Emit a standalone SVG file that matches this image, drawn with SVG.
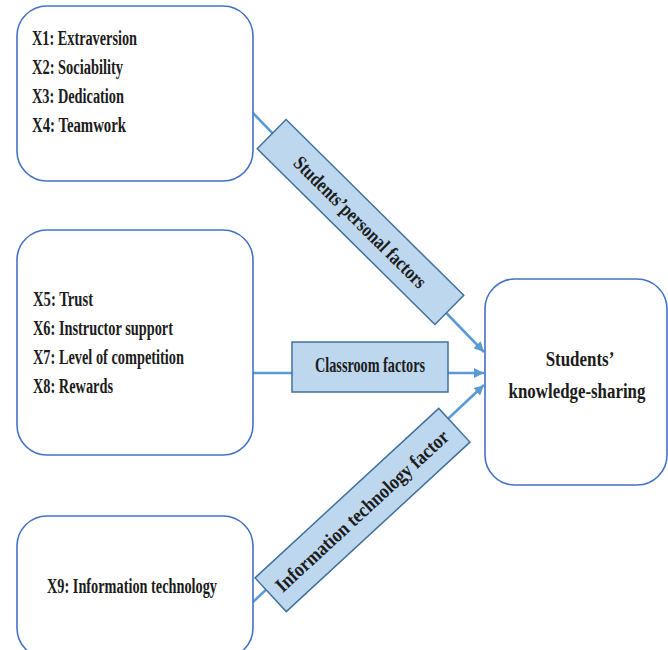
<svg xmlns="http://www.w3.org/2000/svg" width="668" height="650" viewBox="0 0 668 650">
<defs>
<style>
.box{fill:#ffffff;stroke:#4472c4;stroke-width:1.6}
.lab{fill:#bdd7ee;stroke:#41719c;stroke-width:1.5}
.conn{stroke:#5b9bd5;stroke-width:2.6;fill:none}
text{font-family:"Liberation Serif","Times New Roman",serif;font-weight:bold;fill:#1c1c1c}
.t{font-size:20px}
.c{font-size:21px}
.r{font-size:20px}
.big{font-size:22px}
</style>
<marker id="arr" markerUnits="userSpaceOnUse" markerWidth="11" markerHeight="10" refX="10" refY="5" orient="auto">
<path d="M0,0 L10,5 L0,10 z" fill="#5b9bd5"/>
</marker>
</defs>
<rect width="668" height="650" fill="#ffffff"/>
<g id="connectors">
<line class="conn" x1="253" y1="113" x2="484" y2="352" marker-end="url(#arr)"/>
<line class="conn" x1="253" y1="373" x2="484" y2="373" marker-end="url(#arr)"/>
<line class="conn" x1="253" y1="602" x2="484" y2="385" marker-end="url(#arr)"/>
</g>
<g id="personal-box">
<rect class="box" x="17" y="6" width="236" height="175" rx="30"/>
<text class="t" x="32" y="45" textLength="105" lengthAdjust="spacingAndGlyphs">X1: Extraversion</text>
<text class="t" x="32" y="74" textLength="91" lengthAdjust="spacingAndGlyphs">X2: Sociability</text>
<text class="t" x="32" y="103" textLength="92" lengthAdjust="spacingAndGlyphs">X3: Dedication</text>
<text class="t" x="32" y="132" textLength="94" lengthAdjust="spacingAndGlyphs">X4: Teamwork</text>
</g>
<g id="classroom-box">
<rect class="box" x="17" y="230" width="236" height="225" rx="30"/>
<text class="t" x="33" y="306" textLength="60" lengthAdjust="spacingAndGlyphs">X5: Trust</text>
<text class="t" x="33" y="335" textLength="140" lengthAdjust="spacingAndGlyphs">X6: Instructor support</text>
<text class="t" x="33" y="364" textLength="151" lengthAdjust="spacingAndGlyphs">X7: Level of competition</text>
<text class="t" x="33" y="393" textLength="80" lengthAdjust="spacingAndGlyphs">X8: Rewards</text>
</g>
<g id="it-box">
<rect class="box" x="17" y="516" width="236" height="142" rx="30"/>
<text class="t" x="47" y="593" textLength="170" lengthAdjust="spacingAndGlyphs">X9: Information technology</text>
</g>
<g id="outcome-box">
<rect class="box" x="485" y="279" width="182" height="206" rx="30"/>
<text class="big" transform="translate(580,366) scale(0.77,1)" text-anchor="middle">Students’</text>
<text class="big" transform="translate(577,398) scale(0.767,1)" text-anchor="middle">knowledge-sharing</text>
</g>
<g id="personal-factors-label" transform="translate(360.5,222) rotate(44.7)">
<rect class="lab" x="-125" y="-20.5" width="250" height="41"/>
<text class="r" x="0" y="7" text-anchor="middle" textLength="178" lengthAdjust="spacingAndGlyphs">Students’personal factors</text>
</g>
<g id="classroom-factors-label">
<rect class="lab" x="292" y="342" width="156" height="50"/>
<text class="c" x="370" y="372" text-anchor="middle" textLength="110" lengthAdjust="spacingAndGlyphs">Classroom factors</text>
</g>
<g id="it-factor-label" transform="translate(362.5,510) rotate(-42.7)">
<rect class="lab" x="-125" y="-23" width="250" height="46"/>
<text class="r" x="-1" y="7" text-anchor="middle" textLength="228" lengthAdjust="spacingAndGlyphs">Information  technology factor</text>
</g>
</svg>
